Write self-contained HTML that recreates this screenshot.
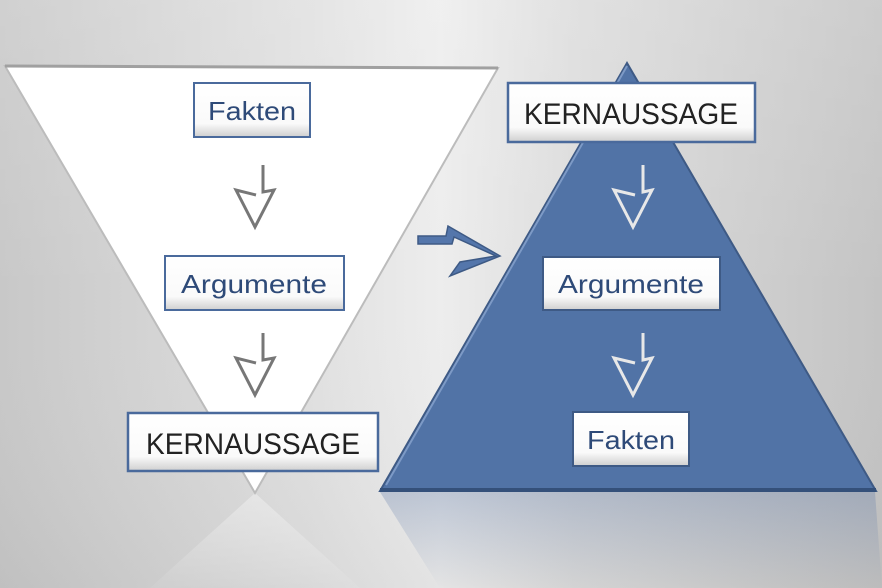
<!DOCTYPE html>
<html><head><meta charset="utf-8"><style>
html,body{margin:0;padding:0;width:882px;height:588px;overflow:hidden}
</style></head><body>
<svg width="882" height="588" viewBox="0 0 882 588" xmlns="http://www.w3.org/2000/svg">
<defs>
<linearGradient id="bg" x1="0" y1="0" x2="1" y2="0">
<stop offset="0" stop-color="#c8c8c8"/><stop offset="0.35" stop-color="#e0e0e0"/><stop offset="0.5" stop-color="#ededed"/><stop offset="0.65" stop-color="#dcdcdc"/><stop offset="1" stop-color="#c4c4c4"/></linearGradient>
<linearGradient id="bgv" x1="0" y1="0" x2="0" y2="1">
<stop offset="0" stop-color="#fff" stop-opacity="0.15"/><stop offset="0.5" stop-color="#fff" stop-opacity="0"/><stop offset="1" stop-color="#000" stop-opacity="0.04"/></linearGradient>
<linearGradient id="refl" x1="0" y1="0" x2="0" y2="1">
<stop offset="0" stop-color="#5a76a6" stop-opacity="0.3"/><stop offset="1" stop-color="#5a76a6" stop-opacity="0"/></linearGradient>
<linearGradient id="reflw" x1="0" y1="0" x2="0" y2="1">
<stop offset="0" stop-color="#fff" stop-opacity="0.35"/><stop offset="1" stop-color="#fff" stop-opacity="0.05"/></linearGradient>
<linearGradient id="btn" x1="0" y1="0" x2="0" y2="1">
<stop offset="0" stop-color="#fff"/><stop offset="0.75" stop-color="#fafafa"/><stop offset="1" stop-color="#cfcfcf"/></linearGradient>
</defs>
<rect width="882" height="588" fill="url(#bg)"/>
<rect width="882" height="588" fill="url(#bgv)"/>
<polygon points="255,493 150,588 360,588" fill="url(#reflw)"/>
<polygon points="380,492 875,492 882,588 440,588" fill="url(#refl)"/>
<polygon points="5,66 498,68 255,493" fill="#ffffff" stroke="#bcbcbc" stroke-width="2"/>
<polyline points="5,66 498,68" fill="none" stroke="#a0a0a0" stroke-width="3"/>
<polygon points="627,63 380,491 876,491" fill="#5173a6" stroke="#3e5a85" stroke-width="2"/>
<line x1="380" y1="490" x2="876" y2="490" stroke="#34507a" stroke-width="4"/>
<line x1="627" y1="66" x2="386" y2="485" stroke="#7d9ac6" stroke-width="2"/>
<polygon points="418,236 446,236 448,226 500,256 450,276 460,262 496,256 454,237 452,244 418,244" fill="#5476ab" stroke="#3e5a85" stroke-width="1.5"/>
<g fill="none" stroke-width="3" stroke-linejoin="miter">
<path d="M263,165 V192 L274,190 L255,227 L236,190 L256,195" stroke="#777"/>
<path d="M263,333 V360 L274,358 L255,395 L236,358 L256,363" stroke="#777"/>
<path d="M643,165 V192 L652,190 L633,227 L614,190 L635,195" stroke="#e8e8e8"/>
<path d="M643,333 V360 L652,358 L633,395 L614,358 L635,363" stroke="#e8e8e8"/>
</g>
<g font-family="'Liberation Sans',sans-serif" text-anchor="middle">
<rect x="194" y="83" width="116" height="54" fill="url(#btn)" stroke="#4a6a9c" stroke-width="2"/>
<text x="252" y="120" font-size="26" fill="#2e4a78" textLength="88" lengthAdjust="spacingAndGlyphs">Fakten</text>
<rect x="165" y="256" width="179" height="54" fill="url(#btn)" stroke="#4a6a9c" stroke-width="2"/>
<text x="254" y="293" font-size="26" fill="#2e4a78" textLength="146" lengthAdjust="spacingAndGlyphs">Argumente</text>
<rect x="128" y="413" width="250" height="58" fill="url(#btn)" stroke="#4a6a9c" stroke-width="2.5"/>
<text x="253" y="454" font-size="30" fill="#222" textLength="214" lengthAdjust="spacingAndGlyphs">KERNAUSSAGE</text>
<rect x="508" y="83" width="247" height="59" fill="url(#btn)" stroke="#4a6a9c" stroke-width="2.5"/>
<text x="631" y="124" font-size="30" fill="#222" textLength="214" lengthAdjust="spacingAndGlyphs">KERNAUSSAGE</text>
<rect x="543" y="257" width="177" height="53" fill="url(#btn)" stroke="#3e5a85" stroke-width="2"/>
<text x="631" y="293" font-size="26" fill="#2e4a78" textLength="146" lengthAdjust="spacingAndGlyphs">Argumente</text>
<rect x="573" y="412" width="116" height="54" fill="url(#btn)" stroke="#3e5a85" stroke-width="2"/>
<text x="631" y="449" font-size="26" fill="#2e4a78" textLength="88" lengthAdjust="spacingAndGlyphs">Fakten</text>
</g>
</svg>
</body></html>
